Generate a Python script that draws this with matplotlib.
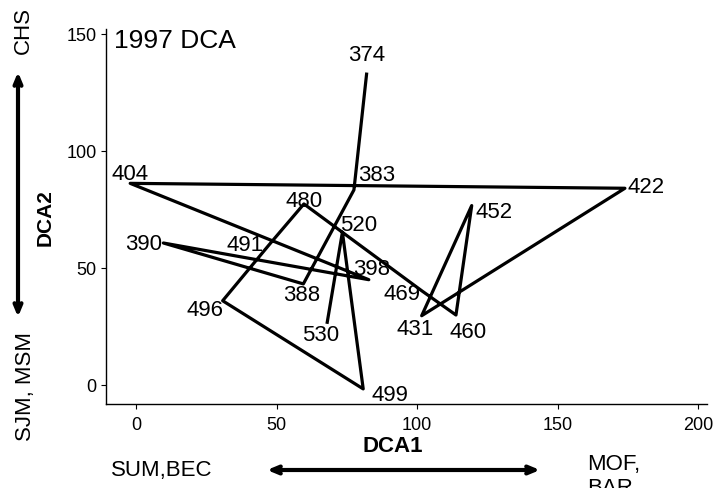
import matplotlib
matplotlib.use("Agg")
import matplotlib.pyplot as plt

plt.rcParams["font.family"] = ["Liberation Sans", "DejaVu Sans"]

# ── data ────────────────────────────────────────────────────────────────────
sites = ["374", "383", "388", "390", "398", "404", "422", "431", "452",
         "460", "469", "480", "491", "496", "499", "520", "530"]
dca1 = [82.0, 77.5, 59.5, 9.7, 82.8, -2.1, 173.9, 101.6, 119.4,
        113.8, 101.7, 59.7, 47.3, 30.8, 80.8, 73.4, 68.0]
dca2 = [132.8, 83.3, 43.1, 60.6, 44.9, 86.1, 84.0, 29.5, 76.6,
        29.8, 40.1, 77.3, 59.8, 35.9, -1.8, 65.2, 26.7]
x_ticks = [0, 50, 100, 150, 200]
y_ticks = [0, 50, 100, 150]

# label offsets in pixels (dx, dy up) from each site, centre of the text
label_offsets = [(0, 22), (23, 18), (-2, -8), (-20, 2), (3, 14), (0, 12),
                 (21, 4), (-7, -10), (22, -3), (12, -14), (-20, 0), (0, 6),
                 (-24, 3), (-18, -6), (27, -3), (16, 10), (-7, -10)]

W, H = 715, 489


def px(x, y):
    """pixel position (from top-left) -> figure fraction"""
    return x / W, 1 - y / H


fig = plt.figure(figsize=(W / 100, H / 100), dpi=100)
ax = fig.add_axes([106 / W, 1 - 405 / H, (707 - 106) / W, (405 - 30) / H])

ax.plot(dca1, dca2, color="black", lw=2.3, zorder=2)

for name, x, y, (dx, dy) in zip(sites, dca1, dca2, label_offsets):
    ax.annotate(name, (x, y), xytext=(dx, dy - 8), textcoords="offset pixels",
                ha="center", va="baseline", fontsize=16, zorder=3)

ax.set_xlim(-10.7, 203.1)
ax.set_ylim(-8.25, 152.1)
ax.set_xticks(x_ticks)
ax.set_yticks(y_ticks)
ax.spines["top"].set_visible(False)
ax.spines["right"].set_visible(False)
for s in ("left", "bottom"):
    ax.spines[s].set_linewidth(1.0)
ax.tick_params(direction="out", length=3.6, width=0.8, labelsize=13)
ax.tick_params(axis="x", pad=4.7)
ax.tick_params(axis="y", pad=3)

# ── title and side annotations ──────────────────────────────────────────────
fig.text(*px(114, 48.3), "1997 DCA", fontsize=19, ha="left", va="baseline")

fig.text(*px(23, 30), "CHS", rotation=90, fontsize=16, ha="center", va="center")
fig.text(*px(25, 387), "SJM, MSM", rotation=90, fontsize=16,
         ha="center", va="center")
fig.text(*px(45, 218), "DCA2", rotation=90, fontsize=15, fontweight="bold",
         ha="center", va="center")

fig.text(*px(393, 446.5), "DCA1", fontsize=16, fontweight="bold",
         ha="center", va="center")
fig.text(*px(111, 471), "SUM,BEC", fontsize=16, ha="left", va="center")
fig.text(*px(587, 454), "MOF,\nBAR", fontsize=16, ha="left", va="top",
         linespacing=1.2)

arrow = dict(arrowstyle="<->,head_length=0.6,head_width=0.25", lw=3,
             color="black", shrinkA=0, shrinkB=0)
fig.add_artist(plt.Annotation("", xy=px(18, 73), xytext=px(18, 318),
                              xycoords="figure fraction",
                              textcoords="figure fraction", arrowprops=arrow))
fig.add_artist(plt.Annotation("", xy=px(540, 471), xytext=px(267, 471),
                              xycoords="figure fraction",
                              textcoords="figure fraction", arrowprops=arrow))

fig.savefig("out.png", dpi=100)
